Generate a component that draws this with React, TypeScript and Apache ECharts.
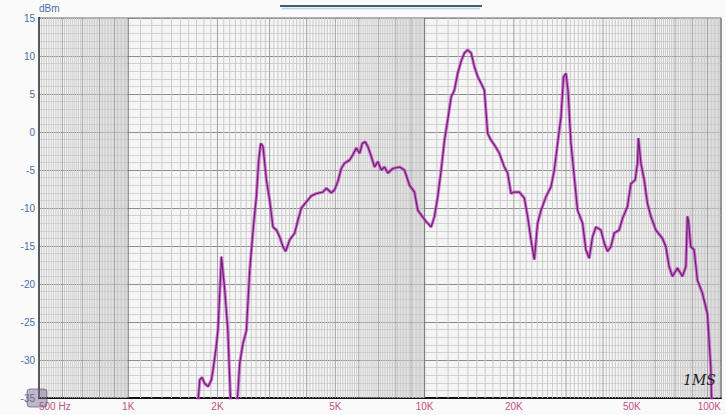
import React, { useEffect, useRef } from "react";
import * as echarts from "echarts";

// Frequency (Hz) and level (dBm); null = trace below the chart floor
const FREQ = [
  1720, 1743, 1775, 1812, 1860, 1909, 1933, 1974, 2009, 2063, 2117, 2167, 2218, 2270, 2329,
  2378, 2440, 2505, 2570, 2651, 2707, 2756, 2799, 2849, 2926, 3001, 3079, 3162, 3243, 3328,
  3398, 3505, 3644, 3739, 3838, 3990, 4148, 4312, 4539, 4660, 4843, 4969, 5097, 5234, 5370,
  5581, 5728, 5881, 6036, 6162, 6305, 6433, 6605, 6779, 6955, 7141, 7326, 7516, 7811, 8226,
  8553, 8891, 9243, 9483, 9608, 10125, 10522, 10797, 11077, 11373, 11667, 11967, 12288, 12604,
  12928, 13278, 13624, 13975, 14350, 14720, 15103, 15509, 15910, 16322, 16760, 17195, 17870,
  18578, 19060, 19571, 20078, 20871, 21698, 22262, 22858, 23454, 24062, 24707, 25682, 26697,
  27391, 28102, 28851, 29439, 29992, 30459, 31176, 31983, 32809, 34106, 35014, 35928, 36860,
  37840, 39338, 40359, 41406, 42517, 43619, 45342, 46518, 48356, 49655, 51336, 52258, 52668,
  53657, 55047, 56473, 57990, 60282, 63460, 65160, 66830, 68570, 71290, 74100, 76100, 77050,
  77620, 79080, 81140, 83270, 86540, 89960, 91150, 92360, 93090,
];
const DB: (number | null)[] = [
  -35.5, -32.6, -32.3, -33.1, -33.5, -32.6, -31.3, -28.7, -26.0, -16.4, -20.8, -26.0, -36, null, -36,
  -30.4, -27.8, -26.1, -18.2, -12.0, -8.5, -3.7, -1.5, -1.9, -6.3, -9.0, -12.5, -12.9, -13.8, -15.1,
  -15.7, -14.2, -13.3, -11.6, -10.0, -9.2, -8.4, -8.1, -7.9, -7.4, -8.0, -7.6, -6.5, -4.8, -4.1,
  -3.7, -3.0, -2.1, -2.8, -1.5, -1.3, -1.9, -3.2, -4.6, -3.9, -5.0, -4.6, -5.4, -4.8, -4.6,
  -5.0, -7.0, -7.9, -10.3, -10.6, -11.8, -12.5, -11.1, -8.5, -5.0, -1.1, 1.6, 4.6, 5.5,
  7.7, 9.3, 10.4, 10.8, 10.4, 8.6, 7.3, 6.4, 5.5, -0.2, -1.1, -1.7, -2.8,
  -4.6, -5.4, -8.1, -7.9, -7.9, -8.7, -11.1, -14.2, -16.8, -12.0, -10.3, -8.5, -7.2,
  -5.0, -1.5, 2.0, 7.3, 7.7, 5.5, -1.5, -5.9, -10.3, -12.0, -15.5, -16.6, -13.8,
  -12.5, -12.9, -14.6, -15.7, -15.1, -13.3, -12.9, -11.4, -9.8, -6.8, -6.3, -4.1, -0.8,
  -4.1, -6.3, -9.4, -11.1, -12.9, -14.0, -15.1, -17.7, -19.0, -17.9, -19.0, -17.7, -11.1,
  -11.6, -15.1, -15.5, -19.5, -21.2, -23.9, -27.4, -30.9, -36,
];

const X_MIN_HZ = 500;
const X_MAX_HZ = 100000;
const Y_MIN = -35;
const Y_MAX = 15;
const TICK_FREQS = [500, 1000, 2000, 5000, 10000, 20000, 50000, 100000];
const TICK_LABELS = ["500 Hz", "1K", "2K", "5K", "10K", "20K", "50K", "100K"];
const DECADES = [100, 1000, 10000];

export default function App() {
  const ref = useRef<HTMLDivElement>(null);

  useEffect(() => {
    if (!ref.current) return;
    const chart = echarts.init(ref.current, undefined, { renderer: "svg" });

    const lineData = FREQ.map((f, i) => [Math.log10(f), DB[i] === null ? "-" : DB[i]]);

    // vertical grid: fine lines at tenth of decade, medium at each multiple, strong at decades
    const vgrid: number[][] = [];
    DECADES.forEach((d) => {
      for (let k = 10; k < 100; k++) {
        const f = (k * d) / 10;
        if (f < X_MIN_HZ || f > X_MAX_HZ) continue;
        const kind = k % 10 === 0 ? (k === 10 ? 2 : 1) : 0;
        vgrid.push([Math.log10(f), kind]);
      }
    });
    vgrid.push([Math.log10(X_MAX_HZ), 2]);
    const gridColors = ["#cbcbcb", "#a2a2a2", "#727272"];

    const labelFor = (v: number) => {
      let best = 0;
      let bd = Infinity;
      TICK_FREQS.forEach((f, i) => {
        const dd = Math.abs(Math.log10(f) - v);
        if (dd < bd) {
          bd = dd;
          best = i;
        }
      });
      return TICK_LABELS[best];
    };

    chart.setOption({
      animation: false,
      backgroundColor: "#fafafa",
      grid: {
        left: 39,
        right: 5,
        top: 18,
        bottom: 17,
        containLabel: false,
        outerBoundsMode: "none",
        show: true,
        backgroundColor: "#f5f5f5",
        borderColor: "#6a6a6a",
        borderWidth: 1,
      },
      xAxis: {
        type: "value",
        min: Math.log10(X_MIN_HZ),
        max: Math.log10(X_MAX_HZ),
        axisLine: { show: true, onZero: false, lineStyle: { color: "#111", width: 2 } },
        axisTick: { show: false },
        splitLine: { show: false },
        axisLabel: {
          customValues: TICK_FREQS.map((f) => Math.log10(f)),
          formatter: (v: number) => labelFor(v),
          color: "#c2507e",
          fontSize: 10,
          fontFamily: "Liberation Sans",
          margin: 3,
          alignMinLabel: "left",
          alignMaxLabel: "right",
          showMinLabel: true,
          showMaxLabel: true,
        },
      },
      yAxis: {
        type: "value",
        min: Y_MIN,
        max: Y_MAX,
        interval: 5,
        axisLine: { show: true, lineStyle: { color: "#111", width: 2 } },
        axisTick: { show: false },
        axisLabel: {
          color: "#4a6fa5",
          fontSize: 10,
          fontFamily: "Liberation Sans",
          margin: 4,
        },
        splitLine: { show: true, lineStyle: { color: "#8e8e8e", width: 1 } },
        minorTick: { show: false, splitNumber: 5 },
        minorSplitLine: { show: true, lineStyle: { color: "#d2d2d2", width: 1 } },
      },
      series: [
        {
          type: "custom",
          silent: true,
          z: 1,
          clip: false,
          data: vgrid,
          renderItem: (params: any, api: any) => {
            const x = api.value(0);
            const k = api.value(1);
            const p1 = api.coord([x, Y_MAX]);
            const p2 = api.coord([x, Y_MIN]);
            return {
              type: "line",
              shape: { x1: p1[0], y1: p1[1], x2: p2[0], y2: p2[1] },
              style: { stroke: gridColors[k], lineWidth: 1 },
            };
          },
        },
        {
          type: "line",
          data: lineData,
          showSymbol: false,
          symbol: "none",
          clip: true,
          z: 3,
          connectNulls: false,
          lineStyle: { color: "#c848c8", width: 3.2, opacity: 0.75 },
        },
        {
          type: "line",
          data: lineData,
          showSymbol: false,
          symbol: "none",
          clip: true,
          z: 4,
          connectNulls: false,
          lineStyle: { color: "#6a2270", width: 1.2 },
        },
      ],
      graphic: [
        {
          type: "text",
          left: 39,
          top: 3,
          style: { text: "dBm", fill: "#4a6fa5", fontSize: 10, fontFamily: "Liberation Sans" },
        },
        {
          type: "line",
          shape: { x1: 280, y1: 6, x2: 482, y2: 6 },
          style: { stroke: "#3d5f6f", lineWidth: 2 },
        },
        {
          type: "line",
          shape: { x1: 282, y1: 8.5, x2: 480, y2: 8.5 },
          style: { stroke: "#b9d4e0", lineWidth: 1.5 },
        },
        {
          type: "text",
          left: 683,
          top: 373,
          z: 10,
          style: {
            text: "1MS",
            fill: "#1e1e1e",
            fontSize: 14,
            fontStyle: "italic",
            fontFamily: "DejaVu Serif",
          },
        },
        {
          type: "rect",
          z: 10,
          shape: { x: 27, y: 389, width: 20, height: 18, r: 3 },
          style: { fill: "rgba(120,100,140,0.45)", stroke: "rgba(80,70,100,0.6)", lineWidth: 1 },
        },
      ],
    });

    return () => chart.dispose();
  }, []);

  return (
    <div
      ref={ref}
      style={{ position: "fixed", left: 0, top: 0, width: 726, height: 415 }}
    />
  );
}
